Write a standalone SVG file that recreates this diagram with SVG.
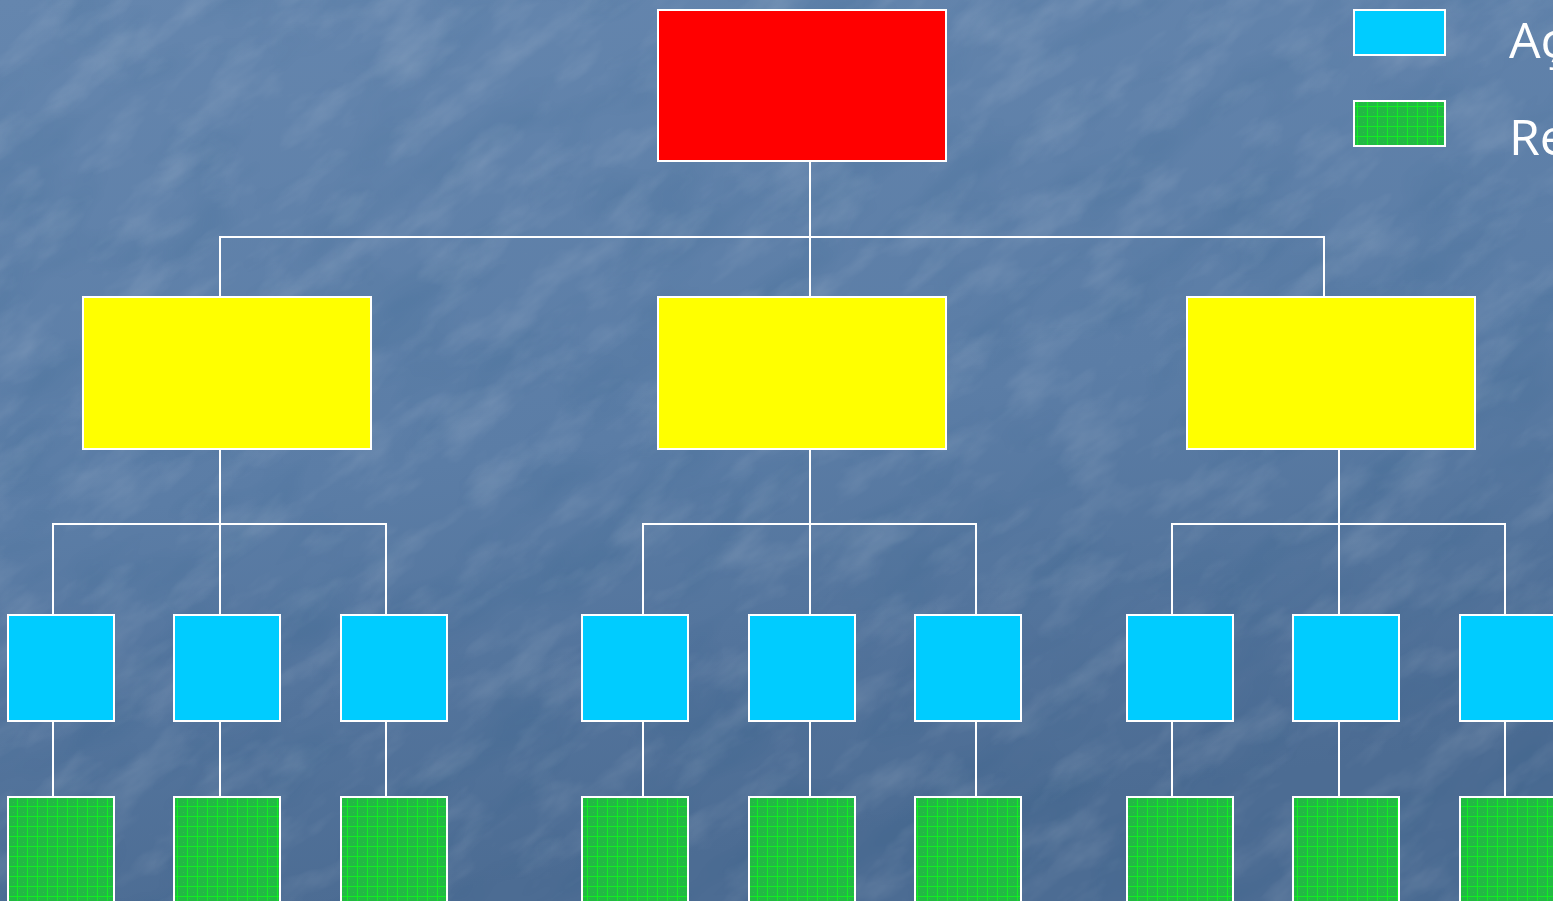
<svg xmlns="http://www.w3.org/2000/svg" width="1553" height="901" viewBox="0 0 1553 901">
  <defs>
    <linearGradient id="bg" x1="0" y1="0" x2="0.25" y2="1">
      <stop offset="0" stop-color="#6586ae"/>
      <stop offset="0.55" stop-color="#5b7da6"/>
      <stop offset="1" stop-color="#4c6c93"/>
    </linearGradient>
    <!-- mottled, slightly diagonal texture of the slide background -->
    <filter id="grain" x="0" y="0" width="100%" height="100%" filterUnits="objectBoundingBox">
      <feTurbulence type="fractalNoise" baseFrequency="0.012 0.03" numOctaves="4" seed="7"/>
      <feColorMatrix type="matrix" values="0 0 0 0 1  0 0 0 0 1  0 0 0 0 1  0 0 0 1.3 -0.6"/>
    </filter>
    <filter id="shade" x="0" y="0" width="100%" height="100%" filterUnits="objectBoundingBox">
      <feTurbulence type="fractalNoise" baseFrequency="0.008 0.02" numOctaves="3" seed="2"/>
      <feColorMatrix type="matrix" values="0 0 0 0 0  0 0 0 0 0.05  0 0 0 0 0.15  0 0 0 1.2 -0.55"/>
    </filter>
    <pattern id="mesh" patternUnits="userSpaceOnUse" x="8" y="797" width="10" height="10">
      <rect width="10" height="10" fill="#22b944"/>
      <rect x="1" y="1" width="1" height="1" fill="#2bc94c" opacity="0.6"/>
      <rect x="5" y="5" width="1" height="1" fill="#2bc94c" opacity="0.6"/>
      <rect x="9" y="0" width="1" height="10" fill="#11ee22"/>
      <rect x="0" y="9" width="10" height="1" fill="#11ee22"/>
    </pattern>
    <style>
      .box { stroke: #ffffff; stroke-width: 2; }
      .root { fill: #ff0000; }
      .mid { fill: #ffff00; }
      .unit { fill: #00ccff; }
      .res { fill: url(#mesh); }
      .link { stroke: #ffffff; stroke-width: 2; fill: none; }
      .legend { font-family: "Open Sans", "DejaVu Sans", sans-serif; font-size: 50px; fill: #ffffff; }
    </style>
  </defs>

  <!-- background -->
  <rect x="0" y="0" width="1553" height="901" fill="url(#bg)"/>
  <g transform="rotate(-35 776 450)">
    <rect x="-700" y="-700" width="2950" height="2300" fill="#000000" filter="url(#shade)" opacity="0.18"/>
    <rect x="-700" y="-700" width="2950" height="2300" fill="#ffffff" filter="url(#grain)" opacity="0.2"/>
  </g>

  <!-- connectors -->
  <g id="connectors" class="link">
    <path d="M810 161V237M220 297V237H1324V297M810 237V297"/>
    <path d="M220 449V524M53 615V524H386V615M220 524V615"/>
    <path d="M810 449V524M643 615V524H976V615M810 524V615"/>
    <path d="M1339 449V524M1172 615V524H1505V615M1339 524V615"/>
    <path d="M53 721V797M220 721V797M386 721V797M643 721V797M810 721V797M976 721V797M1172 721V797M1339 721V797M1505 721V797"/>
  </g>

  <!-- top level -->
  <g id="n-root"><rect class="box root" x="658" y="10" width="288" height="151"/></g>

  <!-- second level -->
  <g id="n-a"><rect class="box mid" x="83" y="297" width="288" height="152"/></g>
  <g id="n-b"><rect class="box mid" x="658" y="297" width="288" height="152"/></g>
  <g id="n-c"><rect class="box mid" x="1187" y="297" width="288" height="152"/></g>

  <!-- third level -->
  <g id="n-a1"><rect class="box unit" x="8" y="615" width="106" height="106"/></g>
  <g id="n-a2"><rect class="box unit" x="174" y="615" width="106" height="106"/></g>
  <g id="n-a3"><rect class="box unit" x="341" y="615" width="106" height="106"/></g>
  <g id="n-b1"><rect class="box unit" x="582" y="615" width="106" height="106"/></g>
  <g id="n-b2"><rect class="box unit" x="749" y="615" width="106" height="106"/></g>
  <g id="n-b3"><rect class="box unit" x="915" y="615" width="106" height="106"/></g>
  <g id="n-c1"><rect class="box unit" x="1127" y="615" width="106" height="106"/></g>
  <g id="n-c2"><rect class="box unit" x="1293" y="615" width="106" height="106"/></g>
  <g id="n-c3"><rect class="box unit" x="1460" y="615" width="106" height="106"/></g>

  <!-- fourth level -->
  <g id="r-a1"><rect class="box res" x="8" y="797" width="106" height="120"/></g>
  <g id="r-a2"><rect class="box res" x="174" y="797" width="106" height="120"/></g>
  <g id="r-a3"><rect class="box res" x="341" y="797" width="106" height="120"/></g>
  <g id="r-b1"><rect class="box res" x="582" y="797" width="106" height="120"/></g>
  <g id="r-b2"><rect class="box res" x="749" y="797" width="106" height="120"/></g>
  <g id="r-b3"><rect class="box res" x="915" y="797" width="106" height="120"/></g>
  <g id="r-c1"><rect class="box res" x="1127" y="797" width="106" height="120"/></g>
  <g id="r-c2"><rect class="box res" x="1293" y="797" width="106" height="120"/></g>
  <g id="r-c3"><rect class="box res" x="1460" y="797" width="106" height="120"/></g>

  <!-- legend -->
  <g id="legend">
    <rect class="box unit" x="1354" y="10" width="91" height="45"/>
    <rect class="box res" x="1354" y="101" width="91" height="45"/>
    <text class="legend" x="1509" y="58">Aç</text>
    <text class="legend" x="1509" y="155">Re</text>
  </g>
</svg>
